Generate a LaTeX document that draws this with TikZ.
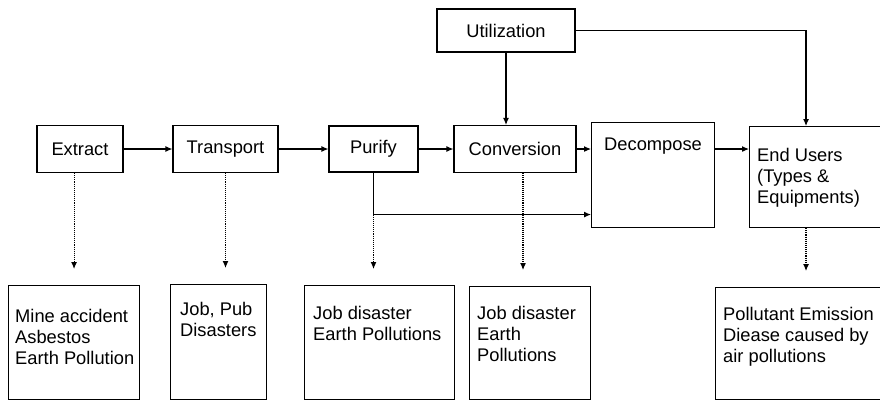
\documentclass[tikz,border=0pt]{standalone}
\usepackage{fontspec}
\setmainfont{Liberation Sans}
\usetikzlibrary{arrows.meta}
\newlength{\ArrowGap}
\newlength{\FrameWidth}
\setlength{\ArrowGap}{16pt}
\setlength{\FrameWidth}{1.1pt}
\newcommand{\BoxFont}{\fontsize{18.3}{21}\selectfont}
\tikzset{
  stage box/.style={draw, rectangle, line width=\FrameWidth, inner sep=0pt, minimum height=47pt, font=\BoxFont},
  tall box/.style={draw, rectangle, line width=\FrameWidth, inner sep=0pt, anchor=north west},
  box text/.style={draw=none, inner sep=0pt, anchor=north west, align=left, font=\BoxFont},
  flow/.style={-{Latex[length=7pt,width=6pt]}, line width=\FrameWidth},
  effect/.style={-{Latex[length=7pt,width=6pt]}, line width=\FrameWidth, densely dotted, shorten >=\ArrowGap}
}

\begin{document}
\begin{tikzpicture}[x=1pt, y=-1pt]
  \useasboundingbox (0,0) rectangle (880,400);
  \clip (0,0) rectangle (880,400);

  % process chain
  \node[stage box, minimum width=86pt] (extract) at (80,149) {Extract};
  \node[stage box, minimum width=105pt] (transport) at (225.5,149) {Transport};
  \node[stage box, minimum width=89pt, minimum height=46pt] (purify) at (373.5,149) {Purify};
  \node[stage box, minimum width=122pt] (conversion) at (515,149) {Conversion};
  \node[stage box, minimum width=138pt, minimum height=43pt] (utilization) at (506,30.5) {Utilization};
  \node[tall box, minimum width=123pt, minimum height=105pt] (decompose) at (591,122) {};
  \node[box text, anchor=north] (decomposetext) at ([yshift=-16pt]decompose.north) {Decompose};
  \node[tall box, minimum width=150pt, minimum height=101pt] (endusers) at (749,126) {};
  \node[box text] (endusertext) at ([xshift=8pt,yshift=-22pt]endusers.north west) {End Users\\(Types \&\\Equipments)};

  % consequences
  \node[tall box, minimum width=131pt, minimum height=114pt] (mine) at (8,285) {};
  \node[box text] (minetext) at ([xshift=7pt,yshift=-24pt]mine.north west) {Mine accident\\Asbestos\\Earth Pollution};
  \node[tall box, minimum width=96pt, minimum height=115pt] (jobpub) at (170,284) {};
  \node[box text] (jobpubtext) at ([xshift=10pt,yshift=-18pt]jobpub.north west) {Job, Pub\\Disasters};
  \node[tall box, minimum width=150pt, minimum height=114pt] (jobearth) at (304,285) {};
  \node[box text] (jobearthtext) at ([xshift=9pt,yshift=-21pt]jobearth.north west) {Job disaster\\Earth Pollutions};
  \node[tall box, minimum width=121pt, minimum height=113pt] (jobpollution) at (469,286) {};
  \node[box text] (jobpollutiontext) at ([xshift=8pt,yshift=-20pt]jobpollution.north west) {Job disaster\\Earth\\Pollutions};
  \node[tall box, minimum width=180pt, minimum height=112pt] (emission) at (715,287) {};
  \node[box text] (emissiontext) at ([xshift=8pt,yshift=-20pt]emission.north west) {Pollutant Emission\\Diease caused by\\air pollutions};

  \coordinate (userin) at ([xshift=57pt]endusers.north west);
  \coordinate (purifybend) at ([yshift=-42pt]purify.south);

  \draw[flow] (extract.east) -- (transport.west);
  \draw[flow] (transport.east) -- (purify.west);
  \draw[flow] (purify.east) -- (conversion.west);
  \draw[flow] (conversion.east) -- (conversion.east -| decompose.west);
  \draw[flow] (conversion.east -| decompose.east) -- (conversion.east -| endusers.west);
  \draw[flow] (utilization.south) -- (utilization.south |- conversion.north);
  \draw[flow] (utilization.east) -| (userin);
  \draw[flow] (purify.south) -- (purifybend) -- (purifybend -| decompose.west);

  \draw[effect] (extract.south -| mine.north) -- (mine.north);
  \draw[effect] (transport.south) -- (transport.south |- jobpub.north);
  \draw[effect] (purifybend) -- (purifybend |- jobearth.north);
  \draw[effect] ([xshift=8pt]conversion.south) -- ([xshift=8pt]conversion.south |- jobpollution.north);
  \draw[effect] (userin |- endusers.south) -- (userin |- emission.north);
  % \draw[flow] (decompose.south) -- (jobpollution.north);
\end{tikzpicture}
\end{document}
